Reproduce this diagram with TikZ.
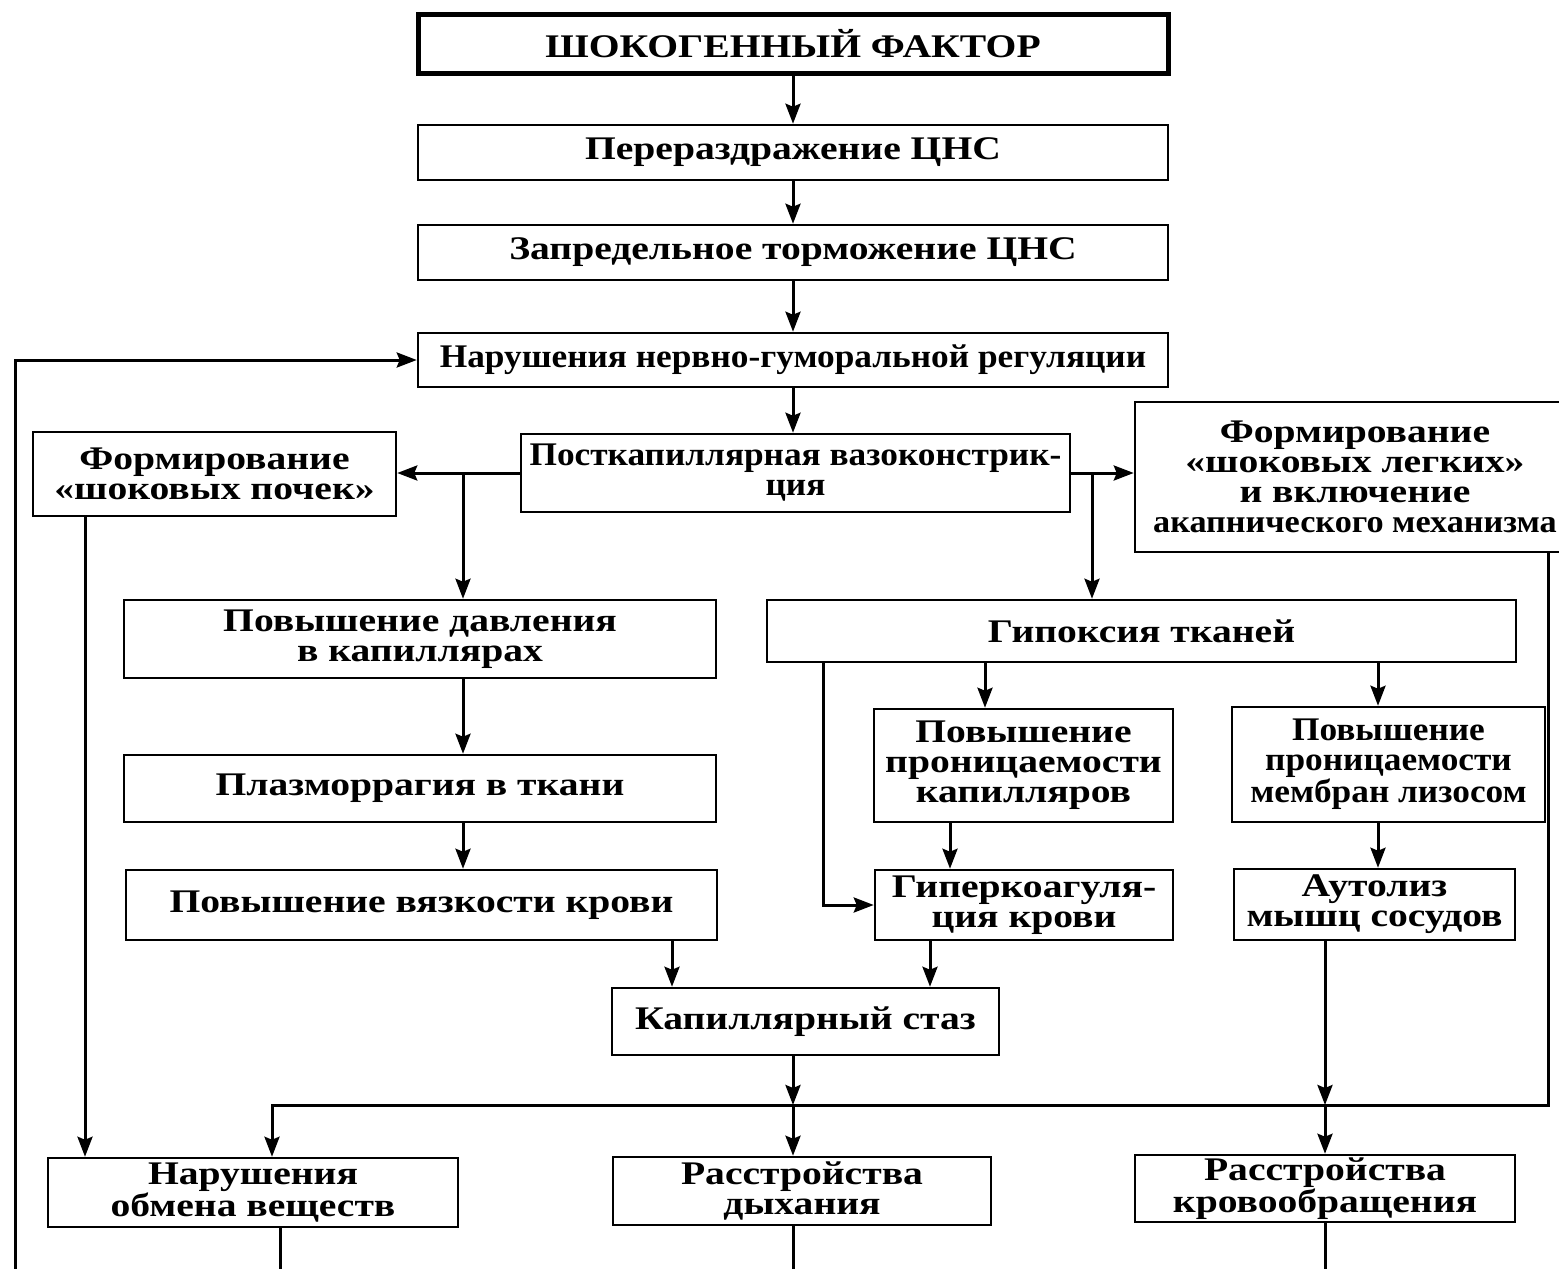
\documentclass[tikz,border=0pt]{standalone}
\usepackage{fontspec}
\setmainfont{Liberation Serif}[FakeStretch=1.2]
\newfontfamily\narrowf{Liberation Serif}[FakeStretch=1.07]
\usetikzlibrary{arrows.meta}
\begin{document}
\begin{tikzpicture}[x=1pt,y=-1pt,
  box/.style={draw, line width=2.5pt, align=center, inner sep=0pt,
    font=\bfseries\fontsize{33}{30}\selectfont},
  nbox/.style={box, font=\narrowf\bfseries\fontsize{33}{30}\selectfont},
  arr/.style={line width=3pt, -{Stealth[length=20pt,width=15pt,inset=3pt]}},
  ln/.style={line width=3pt}]
\useasboundingbox (0,0) rectangle (1559,1269);
\clip (0,0) rectangle (1559,1269);
\fill[white] (0,0) rectangle (1559,1269);
% nodes
\node[box, line width=5pt, minimum width=750pt, minimum height=59pt] (b1) at (793,43.5) {ШОКОГЕННЫЙ ФАКТОР};
\node[box, minimum width=750pt, minimum height=55pt] (b2) at (793,152.5) {Перераздражение ЦНС};
\node[box, minimum width=750pt, minimum height=55pt] (b3) at (793,252.5) {Запредельное торможение ЦНС};
\node[nbox, minimum width=750pt, minimum height=54pt] (b4) at (793,360) {Нарушения нервно-гуморальной регуляции};
\node[nbox, minimum width=549pt, minimum height=78pt] (b5) at (795.5,473) {Посткапиллярная вазоконстрик-\\ция};
\node[box, minimum width=363pt, minimum height=84pt] (b6) at (214.5,474) {Формирование\\«шоковых почек»};
\node[box, minimum width=440pt, minimum height=150pt] (b7) at (1355,477) {Формирование\\«шоковых легких»\\и включение\\{\narrowf\fontsize{32}{30}\selectfont акапнического механизма}};
\node[box, minimum width=592pt, minimum height=78pt] (b8) at (420,639) {Повышение давления\\в капиллярах};
\node[box, minimum width=749pt, minimum height=62pt] (b9) at (1141.5,631) {Гипоксия тканей};
\node[box, minimum width=592pt, minimum height=67pt] (b10) at (420,788.5) {Плазморрагия в ткани};
\node[box, minimum width=299pt, minimum height=113pt] (b11) at (1023.5,765.5) {Повышение\\проницаемости\\капилляров};
\node[nbox, minimum width=313pt, minimum height=115pt] (b12) at (1388.5,764.5) {Повышение\\проницаемости\\мембран лизосом};
\node[box, minimum width=591pt, minimum height=70pt] (b13) at (421.5,905) {Повышение вязкости крови};
\node[box, minimum width=298pt, minimum height=70pt] (b14) at (1024,905) {Гиперкоагуля-\\ция крови};
\node[box, minimum width=281pt, minimum height=71pt] (b15) at (1374.5,904.5) {Аутолиз\\мышц сосудов};
\node[box, minimum width=387pt, minimum height=67pt] (b16) at (805.5,1021.5) {Капиллярный стаз};
\node[box, minimum width=410pt, minimum height=69pt] (b17) at (253,1192.5) {Нарушения\\обмена веществ};
\node[box, minimum width=378pt, minimum height=68pt] (b18) at (802,1191) {Расстройства\\дыхания};
\node[box, minimum width=380pt, minimum height=67pt] (b19) at (1325,1188.5) {Расстройства\\кровообращения};
% helper coordinates
\coordinate (x15) at (15,0);
\coordinate (x85) at (85,0);
\coordinate (x272) at (272,0);
\coordinate (x280) at (280,0);
\coordinate (x463) at (463,0);
\coordinate (x672) at (672,0);
\coordinate (x793) at (793,0);
\coordinate (x823) at (823,0);
\coordinate (x930) at (930,0);
\coordinate (x950) at (950,0);
\coordinate (x985) at (985,0);
\coordinate (x1092) at (1092,0);
\coordinate (x1325) at (1325,0);
\coordinate (x1378) at (1378,0);
\coordinate (x1548) at (1548,0);
\coordinate (hl) at (0,1105);
\coordinate (bot) at (0,1275);
% main chain
\draw[arr] (b1) -- (b2);
\draw[arr] (b2) -- (b3);
\draw[arr] (b3) -- (b4);
\draw[arr] (b4.south -| x793) -- (b5.north -| x793);
% feedback
\draw[arr] (bot -| x15) |- (b4.west);
% branches from b5
\draw[arr] (b5.west) -- (b5.west -| b6.east);
\coordinate (j1) at (b5.west -| x463);
\draw[arr] (j1) -- (b8.north -| x463);
\draw[arr] (b5.east) -- (b5.east -| b7.west);
\coordinate (j2) at (b5.east -| x1092);
\draw[arr] (j2) -- (b9.north -| x1092);
% left column
\draw[arr] (b8.south -| x463) -- (b10.north -| x463);
\draw[arr] (b10.south -| x463) -- (b13.north -| x463);
\draw[arr] (b13.south -| x672) -- (b16.north -| x672);
% hypoxia branches
\draw[arr] (b9.south -| x985) -- (b11.north -| x985);
\draw[arr] (b9.south -| x1378) -- (b12.north -| x1378);
\draw[arr] (b9.south -| x823) |- (b14.west);
\draw[arr] (b11.south -| x950) -- (b14.north -| x950);
\draw[arr] (b12.south -| x1378) -- (b15.north -| x1378);
\draw[arr] (b14.south -| x930) -- (b16.north -| x930);
% kidneys down
\draw[arr] (b6.south -| x85) -- (b17.north -| x85);
% lungs right line and bus
\draw[arr] (b7.south -| x1548) -- (hl -| x1548) -- (hl -| x272) -- (b17.north -| x272);
\draw[arr] (b16.south -| x793) -- (hl -| x793);
\draw[arr] (hl -| x793) -- (b18.north -| x793);
\draw[arr] (b15.south -| x1325) -- (hl -| x1325);
\draw[arr] (hl -| x1325) -- (b19.north);
% bottom outgoing lines
\draw[ln] (b17.south -| x280) -- (bot -| x280);
\draw[ln] (b18.south -| x793) -- (bot -| x793);
\draw[ln] (b19.south) -- (bot -| x1325);
\end{tikzpicture}
\end{document}
